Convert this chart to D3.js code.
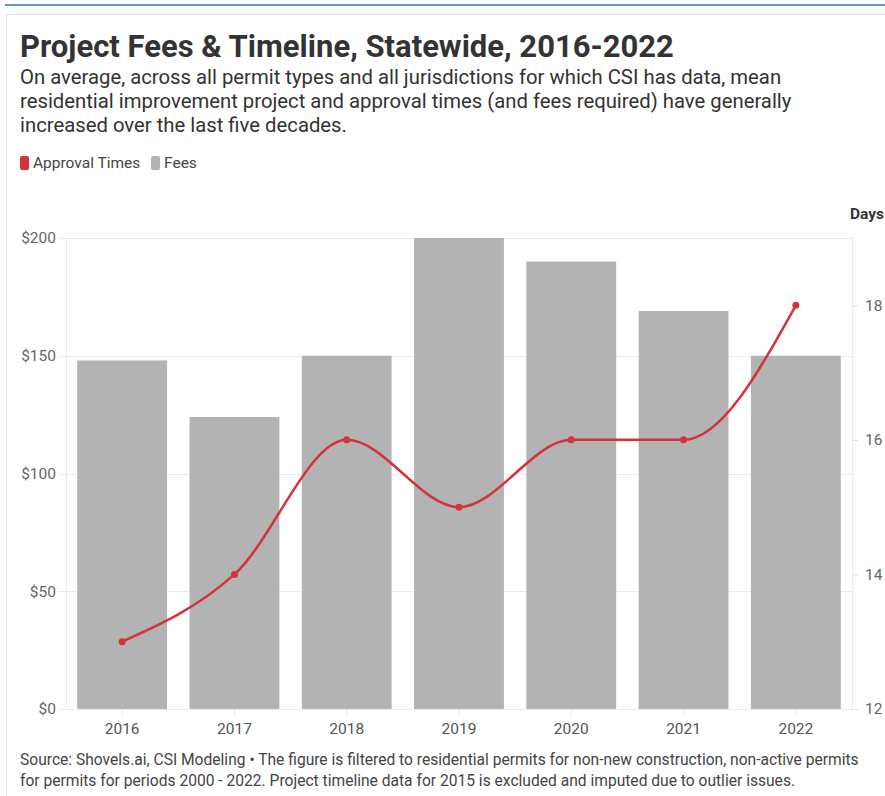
<!DOCTYPE html>
<html><head><meta charset="utf-8">
<script src="https://cdn.jsdelivr.net/npm/d3@7"></script>
<style>
body{margin:0;background:#fff;font-family:Roboto,"Noto Sans",sans-serif;}
svg text{font-family:Roboto,"Noto Sans",sans-serif;}
</style></head>
<body>
<svg id="chart" width="885" height="796"></svg>
<script>
const years = ["2016","2017","2018","2019","2020","2021","2022"];
const fees = [148, 124, 150, 200, 190, 169, 150];
const approvalDays = [13, 14, 16, 15, 16, 16, 18];
const feeTicks = [0, 50, 100, 150, 200];
const dayTicks = [12, 14, 16, 18];

const svg = d3.select("#chart");
// frame
svg.append("line").attr("x1",5).attr("x2",885).attr("y1",5).attr("y2",5).attr("stroke","#5b9bd5").attr("stroke-width",2);
svg.append("line").attr("x1",6).attr("x2",885).attr("y1",14.5).attr("y2",14.5).attr("stroke","#e4e4e4");
svg.append("line").attr("x1",6.5).attr("x2",6.5).attr("y1",14).attr("y2",796).attr("stroke","#e4e4e4");

svg.append("text").attr("x",20).attr("y",57).attr("font-size",31).attr("font-weight",700).attr("fill","#333")
  .text("Project Fees & Timeline, Statewide, 2016-2022");
const sub = ["On average, across all permit types and all jurisdictions for which CSI has data, mean",
  "residential improvement project and approval times (and fees required) have generally",
  "increased over the last five decades."];
sub.forEach((s,i)=>svg.append("text").attr("x",20).attr("y",84+i*24).attr("font-size",20.3).attr("fill","#333").text(s));

// legend
const lg = svg.append("g").attr("transform","translate(20,163)");
lg.append("rect").attr("x",0).attr("y",-7).attr("width",9).attr("height",14).attr("rx",2).attr("fill","#d3343b");
lg.append("text").attr("x",13).attr("y",5).attr("font-size",15.5).attr("fill","#444").text("Approval Times");
lg.append("rect").attr("x",131).attr("y",-7).attr("width",9).attr("height",14).attr("rx",2).attr("fill","#b3b3b3");
lg.append("text").attr("x",144).attr("y",5).attr("font-size",15.5).attr("fill","#444").text("Fees");

const L=66, R=852, T=238, B=709;
const x = d3.scaleBand().domain(years).range([L,R]).paddingInner(0.2).paddingOuter(0.1);
const y = d3.scaleLinear().domain([0,200]).range([B,T]);
const y2 = d3.scaleLinear().domain([12,19]).range([B,T]);

// gridlines
const g = svg.append("g");
g.selectAll("line.h").data(feeTicks).join("line").attr("x1",L-8).attr("x2",R).attr("y1",d=>Math.round(y(d))+0.5).attr("y2",d=>Math.round(y(d))+0.5).attr("stroke","#ececec");
g.append("line").attr("x1",L+0.5).attr("x2",L+0.5).attr("y1",T).attr("y2",B).attr("stroke","#ececec");
g.append("line").attr("x1",R+0.5).attr("x2",R+0.5).attr("y1",T).attr("y2",B).attr("stroke","#ececec");

// bars
svg.append("g").selectAll("rect").data(years).join("rect")
  .attr("x",d=>x(d)).attr("width",x.bandwidth())
  .attr("y",(d,i)=>y(fees[i])).attr("height",(d,i)=>B-y(fees[i])).attr("fill","#b3b3b3");

// left axis
const ax = d3.axisLeft(y).tickValues(feeTicks).tickFormat(d=>"$"+d).tickSize(0).tickPadding(10);
const ga = svg.append("g").attr("transform",`translate(${L},0)`).call(ax);
ga.select(".domain").remove();
ga.selectAll("text").attr("font-size",15.5).attr("fill","#666");

// right axis
const ar = d3.axisRight(y2).tickValues(dayTicks).tickFormat(d3.format("d")).tickSize(6).tickPadding(7);
const gr = svg.append("g").attr("transform",`translate(${R},0)`).call(ar);
gr.select(".domain").remove();
gr.selectAll("line").attr("stroke","#e0e0e0");
gr.selectAll("text").attr("font-size",15.5).attr("fill","#666");
svg.append("text").attr("x",884).attr("y",219).attr("text-anchor","end").attr("font-size",15.5).attr("font-weight",700).attr("fill","#333").text("Days");

// bottom axis
const ab = d3.axisBottom(x).tickSize(6).tickPadding(8);
const gb = svg.append("g").attr("transform",`translate(0,${B})`).call(ab);
gb.select(".domain").remove();
gb.selectAll("line").attr("stroke","#e6e6e6");
gb.selectAll("text").attr("font-size",15.5).attr("fill","#555");

// line
const cx = (d)=>x(d)+x.bandwidth()/2;
const line = d3.line().x((d,i)=>cx(years[i])).y(d=>y2(d)).curve(d3.curveMonotoneX);
svg.append("path").datum(approvalDays).attr("d",line).attr("fill","none").attr("stroke","#d3343b").attr("stroke-width",2.5);
svg.append("g").selectAll("circle").data(approvalDays).join("circle")
  .attr("cx",(d,i)=>cx(years[i])).attr("cy",d=>y2(d)).attr("r",3.5).attr("fill","#d3343b");

// footer
const foot = ["Source: Shovels.ai, CSI Modeling \u2022 The figure is filtered to residential permits for non-new construction, non-active permits",
  "for permits for periods 2000 - 2022. Project timeline data for 2015 is excluded and imputed due to outlier issues."];
foot.forEach((s,i)=>svg.append("text").attr("x",20).attr("y",765+i*21).attr("font-size",15.6).attr("fill","#444").text(s));
</script>
</body></html>
